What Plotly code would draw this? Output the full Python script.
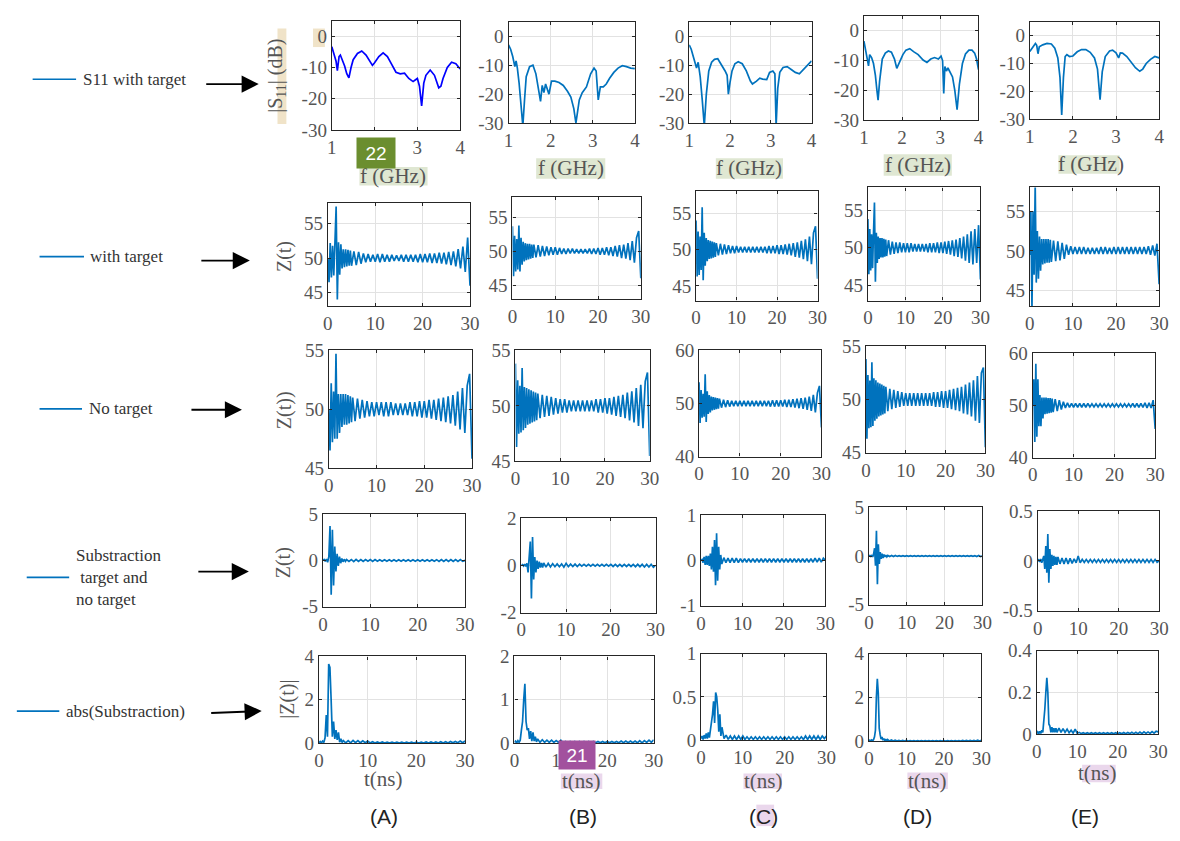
import plotly.graph_objects as go

W, H = 1180, 841
BLUE = "#0072BD"
SERIF = "Liberation Serif, Times New Roman, serif"
SANS = "Liberation Sans, Arial, sans-serif"

# ---------------- data ----------------
# Row 1: |S11| (dB) vs f (GHz)
F1A = [1.0, 1.05, 1.1, 1.13, 1.17, 1.2, 1.25, 1.3, 1.35, 1.4, 1.45, 1.5, 1.6, 1.7, 1.8, 1.9, 1.95, 2.0, 2.1, 2.2, 2.3,
       2.4, 2.5, 2.6, 2.7, 2.8, 2.9, 2.95, 3.0, 3.05, 3.1, 3.15, 3.2, 3.3, 3.4, 3.5, 3.55, 3.6, 3.7, 3.8, 3.9, 4.0]
S1A = [-3.3, -5.5, -8, -11, -6.5, -6, -7.5, -9.5, -12, -13.3, -10, -7.5, -5.5, -4.7, -6, -8.5, -9.3, -8.5, -6.5, -5.3, -6.5,
       -9, -11.5, -12, -11.8, -13.5, -14.5, -14, -13.5, -16, -22.3, -15, -12.5, -10.8, -12.5, -16.5, -16, -13.5, -10, -8.3, -8.8, -10.5]
F1B = [1.0, 1.05, 1.1, 1.15, 1.18, 1.21, 1.25, 1.3, 1.34, 1.38, 1.42, 1.5, 1.58, 1.65, 1.72, 1.76, 1.8, 1.84, 1.88, 1.92, 1.96,
       2.02, 2.1, 2.2, 2.3, 2.4, 2.48, 2.55, 2.6, 2.68, 2.75, 2.85, 2.95, 3.03, 3.08, 3.13, 3.18, 3.25, 3.32, 3.4, 3.5, 3.6, 3.7, 3.8, 3.9, 4.0]
S1B = [-3, -4.5, -7, -10.5, -8.5, -11, -16, -25, -31, -22, -14, -10.5, -10, -13, -19, -22.5, -17, -19.5, -16.5, -18, -20,
       -15.5, -15.5, -16, -17, -19, -21, -25, -30, -22, -19.5, -17.5, -13, -11, -12, -22, -17.5, -17.5, -16.5, -14.5, -12.5, -11, -10.2, -10.5, -11, -11.2]
F1C = [1.0, 1.05, 1.1, 1.15, 1.18, 1.22, 1.27, 1.32, 1.37, 1.42, 1.48, 1.55, 1.62, 1.7, 1.8, 1.88, 1.93, 1.96, 2.0, 2.05, 2.12,
       2.2, 2.3, 2.4, 2.5, 2.55, 2.65, 2.73, 2.8, 2.9, 2.97, 3.05, 3.1, 3.13, 3.17, 3.22, 3.3, 3.4, 3.5, 3.6, 3.7, 3.8, 3.9, 4.0]
S1C = [-3, -4.5, -7, -9.5, -11, -9, -14, -22, -31, -20, -12, -9, -8, -7.8, -10, -12, -13.5, -20, -16, -12, -9.5,
       -8.8, -9.5, -12, -15.5, -16.5, -15.5, -14.5, -14.8, -15, -12.5, -12, -13, -31, -18, -12.5, -10.8, -10.5, -11.5, -12.5, -13, -11.5, -10, -8.5]
F1D = [1.0, 1.04, 1.08, 1.12, 1.15, 1.2, 1.25, 1.3, 1.34, 1.37, 1.41, 1.48, 1.56, 1.64, 1.72, 1.8, 1.86, 1.9, 1.95, 2.02, 2.1,
       2.2, 2.3, 2.42, 2.55, 2.65, 2.75, 2.85, 2.95, 3.02, 3.06, 3.09, 3.12, 3.16, 3.2, 3.25, 3.32, 3.38, 3.44, 3.5, 3.58, 3.66,
       3.75, 3.83, 3.9, 3.95, 4.0]
S1D = [-3.5, -6, -8.5, -11.8, -8, -9, -11, -15, -20, -23.3, -17, -9.5, -7.5, -6.8, -7.2, -9.5, -12.6, -11.5, -10.5, -8, -6.5,
       -6, -7, -8, -9.8, -10.6, -9.5, -9, -9.5, -8.5, -10, -21, -12, -13.5, -12.5, -14, -15.5, -20, -26.5, -18, -11, -7.8,
       -6.5, -6.5, -7.5, -9.5, -13]
F1E = [1.0, 1.05, 1.1, 1.13, 1.16, 1.19, 1.22, 1.3, 1.4, 1.5, 1.58, 1.65, 1.7, 1.74, 1.78, 1.82, 1.86, 1.92, 2.0, 2.1, 2.2,
       2.3, 2.4, 2.5, 2.57, 2.63, 2.68, 2.75, 2.85, 2.92, 3.0, 3.06, 3.1, 3.15, 3.25, 3.35, 3.45, 3.55, 3.62, 3.7, 3.8, 3.9, 4.0]
S1E = [-5.7, -4.5, -3.5, -2.8, -3.5, -6.5, -4, -3.3, -2.8, -3, -4.5, -8, -15, -28.5, -15, -7.5, -6.8, -7.5, -7.3, -5.8, -5,
       -5, -6, -8, -12, -23, -13, -7.5, -5.5, -5.2, -6.2, -8, -6.2, -6.3, -7.5, -9.5, -11.5, -12.8, -12, -10, -8.5, -7.5, -8]

# Time axis (ns) shared by rows 2-5
T = [0, 0.25, 0.5, 0.75, 1, 1.25, 1.5, 1.75, 2, 2.25, 2.5, 2.75, 3, 3.25, 3.5, 3.75, 4, 4.25, 4.5, 4.75, 5,
     5.5, 6, 6.5, 7, 7.5, 8, 8.5, 9, 9.5, 10, 10.5, 11, 11.5, 12, 12.5, 13, 13.5, 14, 14.5, 15,
     15.5, 16, 16.5, 17, 17.5, 18, 18.5, 19, 19.5, 20, 20.5, 21, 21.5, 22, 22.5, 23, 23.5, 24, 24.5, 25,
     25.5, 26, 26.5, 27, 27.5, 28, 28.5, 29, 29.5, 30]

# Row 2: Z(t) with target
Z2A = [50.0, 46.5, 52.2, 47.2, 51.8, 47.5, 52.3, 57.5, 44.0, 52.3, 47.6, 52.0, 48.5, 51.3, 48.7, 51.3, 48.8, 51.2, 48.9, 51.1, 48.9,
       51.0, 49.0, 50.9, 49.2, 50.7, 49.4, 50.6, 49.5, 50.5, 49.5,
       50.6, 49.4, 50.6, 49.5, 50.5, 49.5, 50.5, 49.6, 50.4, 49.6,
       50.5, 49.5, 50.5, 49.5, 50.5, 49.5, 50.5, 49.4, 50.6, 49.4,
       50.6, 49.4, 50.7, 49.3, 50.7, 49.3, 50.8, 49.2, 50.8, 49.1,
       50.9, 49.0, 51.0, 48.8, 51.3, 48.5, 51.7, 48.0, 53.0, 46.0]
Z2B = [53.7, 46.3, 52.3, 47.0, 51.8, 47.3, 53.8, 47.0, 52.0, 48.0, 51.4, 48.5, 51.2, 48.7, 51.1, 48.8, 51.1, 48.9, 51.0, 49.0, 51.0,
       49.1, 50.9, 49.2, 50.8, 49.3, 50.7, 49.4, 50.6, 49.5, 50.6,
       49.5, 50.5, 49.6, 50.4, 49.6, 50.4, 49.7, 50.4, 49.7, 50.3,
       49.7, 50.3, 49.7, 50.3, 49.7, 50.4, 49.6, 50.4, 49.6, 50.5,
       49.5, 50.5, 49.5, 50.6, 49.4, 50.6, 49.3, 50.8, 49.2, 50.9,
       49.0, 51.0, 48.9, 51.2, 48.7, 51.5, 48.3, 52.0, 53.0, 46.0]
Z2C = [54.0, 46.3, 52.5, 46.5, 51.8, 47.2, 55.8, 45.8, 52.3, 47.8, 51.6, 48.4, 51.3, 48.7, 51.2, 48.8, 51.1, 48.9, 51.0, 49.0, 50.9,
       49.2, 50.8, 49.3, 50.7, 49.4, 50.6, 49.5, 50.5, 49.5, 50.5,
       49.6, 50.4, 49.6, 50.4, 49.6, 50.4, 49.6, 50.4, 49.6, 50.4,
       49.6, 50.4, 49.6, 50.4, 49.5, 50.5, 49.5, 50.5, 49.5, 50.6,
       49.4, 50.6, 49.4, 50.7, 49.3, 50.8, 49.2, 50.9, 49.0, 51.0,
       48.9, 51.2, 48.7, 51.4, 48.4, 51.8, 48.0, 52.3, 53.2, 46.0]
Z2D = [53.8, 46.5, 52.5, 47.0, 51.8, 47.3, 52.0, 56.0, 45.5, 52.0, 48.0, 51.5, 48.5, 51.3, 48.7, 51.3, 48.7, 51.2, 48.8, 51.1, 48.9,
       51.0, 49.1, 50.8, 49.2, 50.7, 49.3, 50.7, 49.4, 50.6, 49.4,
       50.6, 49.4, 50.6, 49.5, 50.5, 49.5, 50.5, 49.5, 50.5, 49.5,
       50.5, 49.4, 50.6, 49.4, 50.6, 49.4, 50.7, 49.3, 50.7, 49.3,
       50.8, 49.2, 50.9, 49.1, 51.0, 48.9, 51.1, 48.8, 51.3, 48.6,
       51.5, 48.3, 51.8, 48.0, 52.2, 47.8, 52.5, 48.0, 53.0, 45.8]
Z2E = [49.5, 55.0, 42.5, 55.0, 47.0, 58.5, 46.0, 52.5, 46.5, 51.8, 47.5, 51.5, 48.3, 51.5, 48.4, 51.5, 48.5, 51.5, 48.5, 51.4, 48.6,
       51.3, 48.7, 51.2, 48.8, 51.0, 49.0, 50.8, 49.5, 50.6, 49.6,
       50.5, 49.6, 50.5, 49.6, 50.5, 49.6, 50.4, 49.6, 50.4, 49.6,
       50.4, 49.6, 50.5, 49.6, 50.5, 49.6, 50.4, 49.6, 50.5, 49.6,
       50.5, 49.6, 50.5, 49.6, 50.5, 49.6, 50.5, 49.6, 50.5, 49.6,
       50.5, 49.6, 50.5, 49.6, 50.6, 49.5, 50.7, 49.4, 50.9, 45.8]

# Row 3: Z(t) no target
Z3A = [50.0, 46.5, 52.2, 47.2, 51.5, 47.5, 54.7, 47.5, 51.3, 48.0, 51.3, 48.5, 51.3, 48.7, 51.3, 48.7, 51.2, 48.8, 51.1, 48.9, 51.0,
       49.0, 50.9, 49.2, 50.8, 49.3, 50.7, 49.4, 50.6, 49.4, 50.6,
       49.5, 50.6, 49.4, 50.6, 49.4, 50.6, 49.5, 50.5, 49.5, 50.5,
       49.5, 50.5, 49.5, 50.6, 49.4, 50.6, 49.4, 50.7, 49.3, 50.7,
       49.3, 50.8, 49.2, 50.8, 49.1, 50.9, 49.0, 51.0, 48.9, 51.1,
       48.8, 51.2, 48.6, 51.5, 48.3, 51.8, 48.0, 52.0, 53.0, 45.8]
Z3B = [53.8, 46.3, 52.3, 47.5, 51.8, 47.6, 53.4, 47.8, 51.7, 48.0, 51.6, 48.3, 51.5, 48.4, 51.4, 48.5, 51.3, 48.6, 51.2, 48.7, 51.1,
       48.9, 51.0, 49.0, 50.9, 49.1, 50.8, 49.2, 50.7, 49.3, 50.6,
       49.4, 50.6, 49.4, 50.5, 49.5, 50.5, 49.5, 50.5, 49.5, 50.5,
       49.5, 50.5, 49.5, 50.5, 49.5, 50.6, 49.4, 50.6, 49.4, 50.7,
       49.3, 50.7, 49.2, 50.8, 49.1, 50.9, 49.0, 51.0, 48.9, 51.2,
       48.7, 51.3, 48.5, 51.6, 48.2, 51.9, 48.0, 52.2, 53.0, 45.5]
Z3C = [54.0, 46.3, 52.5, 47.3, 51.8, 47.5, 55.5, 46.5, 52.3, 48.0, 51.6, 48.3, 51.3, 48.7, 51.2, 48.8, 51.1, 48.9, 51.0, 49.0, 50.9,
       49.2, 50.7, 49.3, 50.6, 49.4, 50.5, 49.5, 50.5, 49.5, 50.5,
       49.5, 50.5, 49.5, 50.5, 49.5, 50.5, 49.5, 50.5, 49.5, 50.5,
       49.5, 50.5, 49.5, 50.5, 49.4, 50.6, 49.4, 50.6, 49.4, 50.6,
       49.4, 50.7, 49.3, 50.7, 49.3, 50.8, 49.2, 50.9, 49.1, 51.0,
       49.0, 51.1, 48.8, 51.3, 48.6, 51.6, 48.3, 52.0, 53.3, 45.5]
Z3D = [53.8, 46.3, 52.3, 47.3, 51.8, 47.4, 53.5, 47.5, 52.0, 48.0, 51.8, 48.2, 51.6, 48.4, 51.5, 48.5, 51.4, 48.6, 51.3, 48.7, 51.2,
       48.9, 51.0, 49.1, 50.9, 49.2, 50.8, 49.3, 50.7, 49.4, 50.6,
       49.4, 50.6, 49.4, 50.6, 49.4, 50.6, 49.4, 50.6, 49.4, 50.6,
       49.4, 50.6, 49.4, 50.7, 49.3, 50.7, 49.3, 50.8, 49.2, 50.8,
       49.2, 50.9, 49.1, 51.0, 49.0, 51.1, 48.9, 51.2, 48.7, 51.4,
       48.6, 51.6, 48.4, 51.8, 48.0, 52.2, 47.8, 52.5, 53.0, 45.5]
Z3E = [50.0, 55.0, 43.0, 58.0, 44.0, 55.0, 46.0, 52.0, 46.0, 51.5, 47.5, 51.5, 48.3, 51.5, 48.4, 51.4, 48.5, 51.4, 48.6, 51.3, 48.7,
       51.2, 48.9, 51.0, 49.2, 50.7, 49.5, 50.5, 49.6, 50.4, 49.6,
       50.4, 49.6, 50.4, 49.6, 50.4, 49.6, 50.4, 49.7, 50.3, 49.7,
       50.3, 49.7, 50.3, 49.7, 50.3, 49.7, 50.3, 49.7, 50.3, 49.7,
       50.3, 49.7, 50.3, 49.7, 50.3, 49.7, 50.3, 49.7, 50.4, 49.6,
       50.4, 49.6, 50.4, 49.6, 50.5, 49.5, 50.5, 49.5, 51.0, 45.5]

# Row 4: subtraction (target - no target)
Z4A = [0.0, 0.1, -0.1, 0.15, -0.2, 0.4, 3.7, -3.7, 3.3, -2.7, 1.5, -1.2, 0.7, -0.6, 0.4, -0.3, 0.2, -0.15, 0.12, -0.1, 0.1,
       -0.1, 0.1, -0.12, 0.12, -0.1, 0.1, -0.1, 0.1, -0.08, 0.1,
       -0.1, 0.1, -0.08, 0.08, -0.08, 0.08, -0.08, 0.08, -0.08, 0.08,
       -0.08, 0.08, -0.08, 0.08, -0.08, 0.08, -0.08, 0.08, -0.08, 0.08,
       -0.08, 0.08, -0.08, 0.08, -0.08, 0.08, -0.08, 0.08, -0.1, 0.1,
       -0.1, 0.1, -0.1, 0.1, -0.1, 0.1, -0.1, 0.1, -0.1, 0.0]
Z4B = [0.0, 0.03, -0.03, 0.05, -0.05, 0.08, -0.3, 0.4, 1.0, -1.4, 1.2, -0.6, 0.35, -0.3, 0.2, -0.15, 0.15, -0.1, 0.1, -0.1, 0.1,
       -0.08, 0.08, -0.07, 0.07, -0.06, 0.06, -0.06, 0.06, -0.08, 0.08,
       -0.06, 0.05, -0.05, 0.05, -0.05, 0.05, -0.04, 0.04, -0.04, 0.04,
       -0.04, 0.04, -0.04, 0.04, -0.04, 0.04, -0.04, 0.04, -0.04, 0.04,
       -0.05, 0.04, -0.05, 0.04, -0.05, 0.04, -0.05, 0.04, -0.05, 0.04,
       -0.06, 0.04, -0.06, 0.04, -0.07, 0.04, -0.07, 0.04, -0.08, 0.0]
Z4C = [0.0, 0.02, -0.05, 0.08, -0.1, 0.1, -0.1, 0.1, -0.12, 0.15, -0.2, 0.3, -0.25, 0.45, -0.55, 0.6, -0.45, 0.3, -0.2, 0.12, -0.08,
       0.06, -0.05, 0.05, -0.05, 0.05, -0.05, 0.05, -0.05, 0.04, -0.04,
       0.04, -0.04, 0.04, -0.04, 0.04, -0.04, 0.04, -0.04, 0.04, -0.04,
       0.04, -0.04, 0.04, -0.04, 0.04, -0.04, 0.04, -0.04, 0.04, -0.04,
       0.04, -0.04, 0.04, -0.04, 0.04, -0.04, 0.04, -0.04, 0.04, -0.04,
       0.04, -0.04, 0.04, -0.04, 0.05, -0.04, 0.05, -0.04, 0.05, 0.0]
Z4D = [0.0, 0.05, -0.05, 0.1, -0.1, 0.2, 0.8, -1.0, 2.6, -2.9, 1.2, -0.8, 0.4, -0.3, 0.25, -0.2, 0.15, -0.1, 0.1, -0.08, 0.06,
       -0.05, 0.05, -0.05, 0.05, -0.04, 0.04, -0.04, 0.04, -0.04, 0.04,
       -0.04, 0.04, -0.03, 0.03, -0.03, 0.03, -0.03, 0.03, -0.03, 0.03,
       -0.03, 0.03, -0.03, 0.03, -0.03, 0.03, -0.03, 0.03, -0.03, 0.03,
       -0.03, 0.03, -0.03, 0.03, -0.03, 0.03, -0.03, 0.03, -0.04, 0.04,
       -0.04, 0.04, -0.04, 0.04, -0.04, 0.04, -0.05, 0.05, -0.05, 0.0]
Z4E = [0.0, 0.01, -0.01, 0.02, -0.02, 0.03, 0.05, -0.08, 0.15, -0.12, 0.27, -0.22, 0.12, -0.08, 0.06, -0.05, 0.05, -0.04, 0.04, -0.04, 0.04,
       -0.03, 0.03, -0.03, 0.03, -0.03, 0.025, -0.025, 0.02, -0.02, 0.05,
       -0.02, 0.015, -0.015, 0.015, -0.015, 0.015, -0.015, 0.015, -0.015, 0.015,
       -0.015, 0.015, -0.015, 0.015, -0.015, 0.015, -0.015, 0.015, -0.015, 0.015,
       -0.015, 0.015, -0.015, 0.015, -0.015, 0.015, -0.015, 0.015, -0.015, 0.015,
       -0.015, 0.015, -0.015, 0.015, -0.015, 0.015, -0.015, 0.015, -0.015, 0.0]

# Row 5: abs(subtraction)
Z5A = [0.02, 0.08, 0.02, 0.1, 0.03, 0.25, 1.3, 0.3, 3.65, 3.5, 2.0, 0.3, 1.0, 0.2, 0.6, 0.15, 0.5, 0.05, 0.2, 0.03, 0.12,
       0.02, 0.12, 0.02, 0.13, 0.03, 0.12, 0.02, 0.11, 0.02, 0.1,
       0.01, 0.07, 0.01, 0.06, 0.01, 0.06, 0.01, 0.05, 0.01, 0.05,
       0.01, 0.05, 0.01, 0.05, 0.01, 0.05, 0.01, 0.05, 0.01, 0.05,
       0.01, 0.05, 0.01, 0.06, 0.01, 0.06, 0.01, 0.06, 0.01, 0.07,
       0.01, 0.07, 0.01, 0.08, 0.02, 0.08, 0.02, 0.1, 0.02, 0.1]
Z5B = [0.02, 0.05, 0.01, 0.06, 0.02, 0.07, 0.3, 0.5, 1.0, 1.37, 0.5, 0.3, 0.35, 0.1, 0.28, 0.05, 0.25, 0.05, 0.15, 0.03, 0.1,
       0.02, 0.08, 0.02, 0.07, 0.02, 0.07, 0.02, 0.06, 0.02, 0.07,
       0.01, 0.04, 0.01, 0.04, 0.01, 0.04, 0.01, 0.04, 0.01, 0.04,
       0.01, 0.04, 0.01, 0.04, 0.01, 0.04, 0.01, 0.04, 0.01, 0.04,
       0.01, 0.04, 0.01, 0.04, 0.01, 0.05, 0.01, 0.05, 0.01, 0.05,
       0.01, 0.05, 0.01, 0.06, 0.01, 0.06, 0.02, 0.07, 0.02, 0.08]
Z5C = [0.02, 0.05, 0.01, 0.06, 0.02, 0.08, 0.02, 0.09, 0.03, 0.12, 0.2, 0.3, 0.45, 0.2, 0.55, 0.5, 0.35, 0.1, 0.3, 0.05, 0.15,
       0.02, 0.06, 0.01, 0.05, 0.01, 0.05, 0.01, 0.05, 0.01, 0.05,
       0.01, 0.04, 0.01, 0.04, 0.01, 0.04, 0.01, 0.04, 0.01, 0.04,
       0.01, 0.04, 0.01, 0.04, 0.01, 0.04, 0.01, 0.04, 0.01, 0.04,
       0.01, 0.04, 0.01, 0.04, 0.01, 0.04, 0.01, 0.04, 0.01, 0.05,
       0.01, 0.05, 0.01, 0.05, 0.01, 0.05, 0.01, 0.05, 0.02, 0.05]
Z5D = [0.02, 0.05, 0.01, 0.06, 0.02, 0.08, 0.2, 0.5, 2.0, 2.85, 2.2, 0.6, 0.3, 0.1, 0.2, 0.05, 0.12, 0.03, 0.1, 0.02, 0.08,
       0.01, 0.06, 0.01, 0.05, 0.01, 0.04, 0.01, 0.04, 0.01, 0.04,
       0.01, 0.03, 0.01, 0.03, 0.01, 0.03, 0.01, 0.03, 0.01, 0.03,
       0.01, 0.03, 0.01, 0.03, 0.01, 0.03, 0.01, 0.03, 0.01, 0.03,
       0.01, 0.03, 0.01, 0.03, 0.01, 0.03, 0.01, 0.03, 0.01, 0.04,
       0.01, 0.04, 0.01, 0.04, 0.01, 0.04, 0.01, 0.05, 0.01, 0.05]
Z5E = [0.005, 0.012, 0.004, 0.015, 0.005, 0.02, 0.01, 0.05, 0.12, 0.2, 0.27, 0.2, 0.05, 0.04, 0.01, 0.035, 0.01, 0.03, 0.01, 0.03, 0.01,
       0.03, 0.01, 0.028, 0.01, 0.025, 0.008, 0.02, 0.006, 0.025, 0.005,
       0.01, 0.004, 0.008, 0.003, 0.008, 0.003, 0.008, 0.003, 0.008, 0.003,
       0.008, 0.003, 0.008, 0.003, 0.008, 0.003, 0.008, 0.003, 0.008, 0.003,
       0.008, 0.003, 0.009, 0.003, 0.009, 0.004, 0.01, 0.004, 0.01, 0.004,
       0.011, 0.004, 0.012, 0.005, 0.012, 0.005, 0.014, 0.006, 0.015, 0.012]

ROW1_X = [F1A, F1B, F1C, F1D, F1E]
ROW1_Y = [S1A, S1B, S1C, S1D, S1E]
ROWS_T = [[Z2A, Z2B, Z2C, Z2D, Z2E], [Z3A, Z3B, Z3C, Z3D, Z3E],
          [Z4A, Z4B, Z4C, Z4D, Z4E], [Z5A, Z5B, Z5C, Z5D, Z5E]]

Y_RANGES = [
    [[-30, 5]] * 5,
    [[43, 58]] * 5,
    [[45, 55], [45, 55], [40, 60], [45, 55], [40, 60]],
    [[-5, 5], [-2, 2], [-1, 1], [-5, 5], [-0.5, 0.5]],
    [[0, 4], [0, 2], [0, 1], [0, 4], [0, 0.4]],
]
Y_TICKS = [
    [[-30, -20, -10, 0]] * 5,
    [[45, 50, 55]] * 5,
    [[45, 50, 55], [45, 50, 55], [40, 50, 60], [45, 50, 55], [40, 50, 60]],
    [[-5, 0, 5], [-2, 0, 2], [-1, 0, 1], [-5, 0, 5], [-0.5, 0, 0.5]],
    [[0, 2, 4], [0, 1, 2], [0, 0.5, 1], [0, 2, 4], [0, 0.2, 0.4]],
]

# panel boxes in pixels: (left, right, top, bottom)
BOX = [
    [(331, 461, 11, 123), (510, 638, 12, 116), (693, 817, 12, 116), (870, 986, 6, 113), (1038, 1169, 12, 112)],
    [(327, 471, 198, 304), (514, 644, 192, 296), (700, 823, 186, 298), (874, 988, 182, 298), (1038, 1169, 182, 304)],
    [(328, 473, 349, 470), (517, 653, 349, 463), (703, 827, 349, 458), (872, 993, 345, 454), (1041, 1165, 352, 459)],
    [(322, 466, 517, 612), (523, 659, 521, 618), (705, 831, 518, 611), (875, 990, 510, 610), (1046, 1169, 514, 616)],
    [(318, 466, 663, 752), (516, 657, 663, 752), (705, 832, 660, 749), (875, 989, 660, 750), (1045, 1168, 657, 743)],
]


def fmt(v):
    return str(int(v)) if float(v).is_integer() else str(v)


fig = go.Figure()
layout = {}
tickfont = dict(family=SERIF, size=19, color="#555555")
for r in range(5):
    for c in range(5):
        idx = r * 5 + c + 1
        sfx = "" if idx == 1 else str(idx)
        if r == 0:
            xs, ys = ROW1_X[c], ROW1_Y[c]
            xr, xt = [1, 4], [1, 2, 3, 4]
            color = "#0000FF" if c == 0 else BLUE
        else:
            ys = ROWS_T[r - 1][c]
            xs = T[:len(ys)]
            xr, xt = [0, 30], [0, 10, 20, 30]
            color = BLUE
        fig.add_trace(go.Scatter(x=xs, y=ys, mode="lines", line=dict(color=color, width=1.7),
                                 xaxis="x" + sfx, yaxis="y" + sfx, showlegend=False, hoverinfo="skip"))
        L, R, Tp, B = BOX[r][c]
        common = dict(showline=True, mirror="ticks", linecolor="#262626", linewidth=1.2, ticks="inside",
                      ticklen=3, tickcolor="#262626", showgrid=True, gridcolor="#e2e2e2", gridwidth=1,
                      zeroline=False, tickfont=tickfont, fixedrange=True)
        layout["xaxis" + sfx] = dict(domain=[L / W, R / W], anchor="y" + sfx, range=xr, tickvals=xt,
                                     ticktext=[fmt(v) for v in xt], **common)
        yt = Y_TICKS[r][c]
        layout["yaxis" + sfx] = dict(domain=[1 - B / H, 1 - Tp / H], anchor="x" + sfx, range=Y_RANGES[r][c],
                                     tickvals=yt, ticktext=[fmt(v) for v in yt], **common)


def px(x):
    return x / W


def py(y):
    return 1 - y / H


def txt(s, x, y, size=17, family=SERIF, color="#333333", xanchor="center", angle=0, **kw):
    d = dict(text=s, x=px(x), y=py(y), xref="paper", yref="paper", showarrow=False, xanchor=xanchor,
             yanchor="middle", textangle=angle, font=dict(family=family, size=size, color=color))
    d.update(kw)
    return d


def arrow(tx, ty, hx, hy):
    return dict(text="", x=px(hx), y=py(hy), xref="paper", yref="paper", ax=tx - hx, ay=ty - hy,
                axref="pixel", ayref="pixel", showarrow=True, arrowhead=2, arrowsize=1.8,
                arrowwidth=1.9, arrowcolor="black")


def rect(x0, x1, y0, y1, color):
    return dict(type="rect", xref="paper", yref="paper", x0=px(x0), x1=px(x1), y0=py(y1), y1=py(y0),
                fillcolor=color, line=dict(width=0), layer="below")


def hline(x0, x1, y, color=BLUE):
    return dict(type="line", xref="paper", yref="paper", x0=px(x0), x1=px(x1), y0=py(y), y1=py(y),
                line=dict(color=color, width=1.7))


GREEN_HL = "#dfe7d2"
PURPLE_HL = "#ead7ec"
BEIGE_HL = "#f0e3c8"

shapes = [
    rect(312, 324, 19, 38, BEIGE_HL), rect(276, 285, 19, 117, BEIGE_HL),
    rect(359, 428, 161, 180, GREEN_HL), rect(538, 608, 152, 173, GREEN_HL), rect(720, 788, 152, 173, GREEN_HL),
    rect(890, 959, 148, 170, GREEN_HL), rect(1067, 1129, 149, 168, GREEN_HL),
    rect(563, 605, 783, 799, PURPLE_HL), rect(748, 787, 783, 799, PURPLE_HL), rect(914, 955, 782, 799, PURPLE_HL),
    rect(1091, 1125, 774, 792, PURPLE_HL), rect(761, 779, 815, 837, PURPLE_HL),
    hline(28, 72, 71), hline(35, 80, 253), hline(35, 78, 409), hline(22, 65, 582), hline(12, 55, 719),
]

ann = []
# left legend texts
ann.append(txt("S11 with target", 77, 71, xanchor="left"))
ann.append(txt("with target", 84, 253, xanchor="left"))
ann.append(txt("No target", 83, 409, xanchor="left"))
ann.append(txt("Substraction<br> target and<br>no target", 70, 582, xanchor="left", align="left"))
ann.append(txt("abs(Substraction)", 60, 719, xanchor="left"))
# arrows
ann += [arrow(203, 76, 257, 76), arrow(198, 257, 248, 257), arrow(188, 410, 240, 410),
        arrow(195, 576, 247, 576), arrow(208, 721, 260, 719)]
# y titles
GRAY = "#555555"
ann.append(txt("|S<sub>11</sub>| (dB)", 275, 68, size=20, color=GRAY, angle=-90))
ann.append(txt("Z(t)", 283, 253, size=20, color=GRAY, angle=-90))
ann.append(txt("Z(t))", 283, 410, size=20, color=GRAY, angle=-90))
ann.append(txt("Z(t)", 282, 567, size=20, color=GRAY, angle=-90))
ann.append(txt("|Z(t)|", 286, 707, size=20, color=GRAY, angle=-90))
# x titles
for (x, y) in [(393, 170), (573, 162), (754, 162), (925, 159), (1100, 158)]:
    ann.append(txt("f (GHz)", x, y, size=21, color=GRAY))
for (x, y) in [(383, 789), (584, 791), (768, 791), (934, 791), (1107, 783)]:
    ann.append(txt("t(ns)", x, y, size=21, color=GRAY))
# column labels
for lab, x in zip(["(A)", "(B)", "(C)", "(D)", "(E)"], [384, 585, 768, 924, 1094]):
    ann.append(txt(lab, x, 827, size=21, family=SANS, color="#222222"))
# badges
ann.append(txt("22", 376, 147, size=19, family=SANS, color="white", bgcolor="#6b8e2f", borderpad=4,
               width=30, height=22))
ann.append(txt("21", 579, 764, size=19, family=SANS, color="white", bgcolor="#a2519e", borderpad=4,
               width=28, height=20))

fig.update_layout(width=W, height=H, margin=dict(l=0, r=0, t=0, b=0), paper_bgcolor="white",
                  plot_bgcolor="white", showlegend=False, shapes=shapes, annotations=ann, **layout)
fig.write_html("out.html")
